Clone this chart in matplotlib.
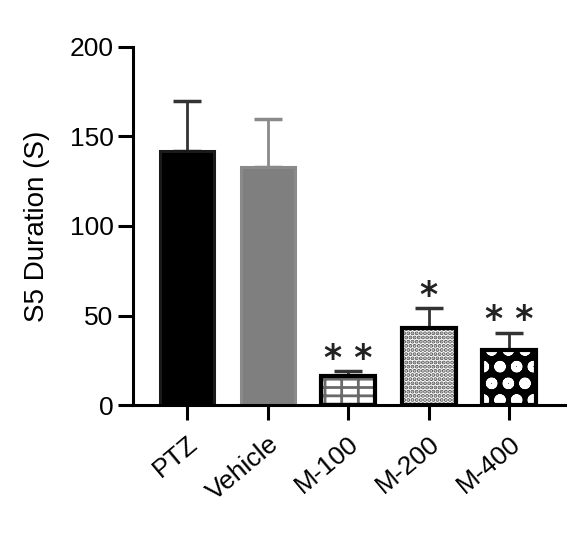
import matplotlib
import matplotlib.pyplot as plt
import numpy as np

matplotlib.use('Agg')

# Data
groups = ["PTZ", "Vehicle", "M-100", "M-200", "M-400"]
means = [142, 133, 16, 43, 31]
errors = [28, 27, 3, 11, 9.5]
stars = ["* *", "*", "* *"]
star_groups = [2, 3, 4]

plt.rcParams['font.family'] = ['Liberation Sans', 'DejaVu Sans']
plt.rcParams['hatch.linewidth'] = 2.0

fig = plt.figure(figsize=(5.88, 5.33), dpi=100)
ax = fig.add_axes([0.226, 0.240, 0.735, 0.672])

x = np.arange(len(groups))
width = 0.67
lw = 2.2

# Bar styles: face, edge, hatch, hatch colour, error bar colour
faces = ["black", "#7f7f7f", "white", "white", "black"]
edges = ["#1a1a1a", "#8a8a8a", "black", "black", "black"]
hatches = [None, None, "--|", "....", "o"]
hatch_lws = [None, None, 2.0, 2.0, 3.5]
hatch_cols = [None, None, "#6a6a6a", "#555555", "white"]
err_cols = ["#333333", "#8a8a8a", "#333333", "#333333", "#333333"]

for i in range(len(groups)):
    # error bar (upper only), drawn behind the bar
    ax.errorbar(x[i], means[i], yerr=[[0], [errors[i]]], fmt='none',
                ecolor=err_cols[i], elinewidth=2.0, capsize=10, capthick=2.5,
                zorder=1)
    if hatches[i] is None:
        ax.bar(x[i], means[i], width, color=faces[i], edgecolor=edges[i],
               linewidth=lw, zorder=2)
    else:
        with plt.rc_context({'hatch.linewidth': hatch_lws[i]}):
            ax.bar(x[i], means[i], width, color=faces[i],
                   edgecolor=hatch_cols[i], hatch=hatches[i], linewidth=0,
                   zorder=2)
        ax.bar(x[i], means[i], width, color='none', edgecolor=edges[i],
               linewidth=lw + 0.8, zorder=3)

# significance marks above the error bars
for g, s in zip(star_groups, stars):
    ax.text(x[g], means[g] + errors[g] + 7, s, ha='center', va='center',
            fontsize=25, fontweight='bold', family='DejaVu Sans',
            color='#222222')

ax.set_xlim(-0.67, 4.69)
ax.set_ylim(0, 200)
ax.set_yticks([0, 50, 100, 150, 200])
ax.set_xticks(x)
ax.set_xticklabels(groups, rotation=40, ha='right', rotation_mode='anchor',
                   fontsize=19)
ax.tick_params(axis='y', labelsize=19, width=2.2, length=11, pad=3)
ax.tick_params(axis='x', width=2.2, length=11, pad=8)
ax.set_ylabel("S5 Duration (S)", fontsize=20, labelpad=14)

for side in ['top', 'right']:
    ax.spines[side].set_visible(False)
for side in ['left', 'bottom']:
    ax.spines[side].set_linewidth(2.2)

fig.savefig("out.png", dpi=100)
